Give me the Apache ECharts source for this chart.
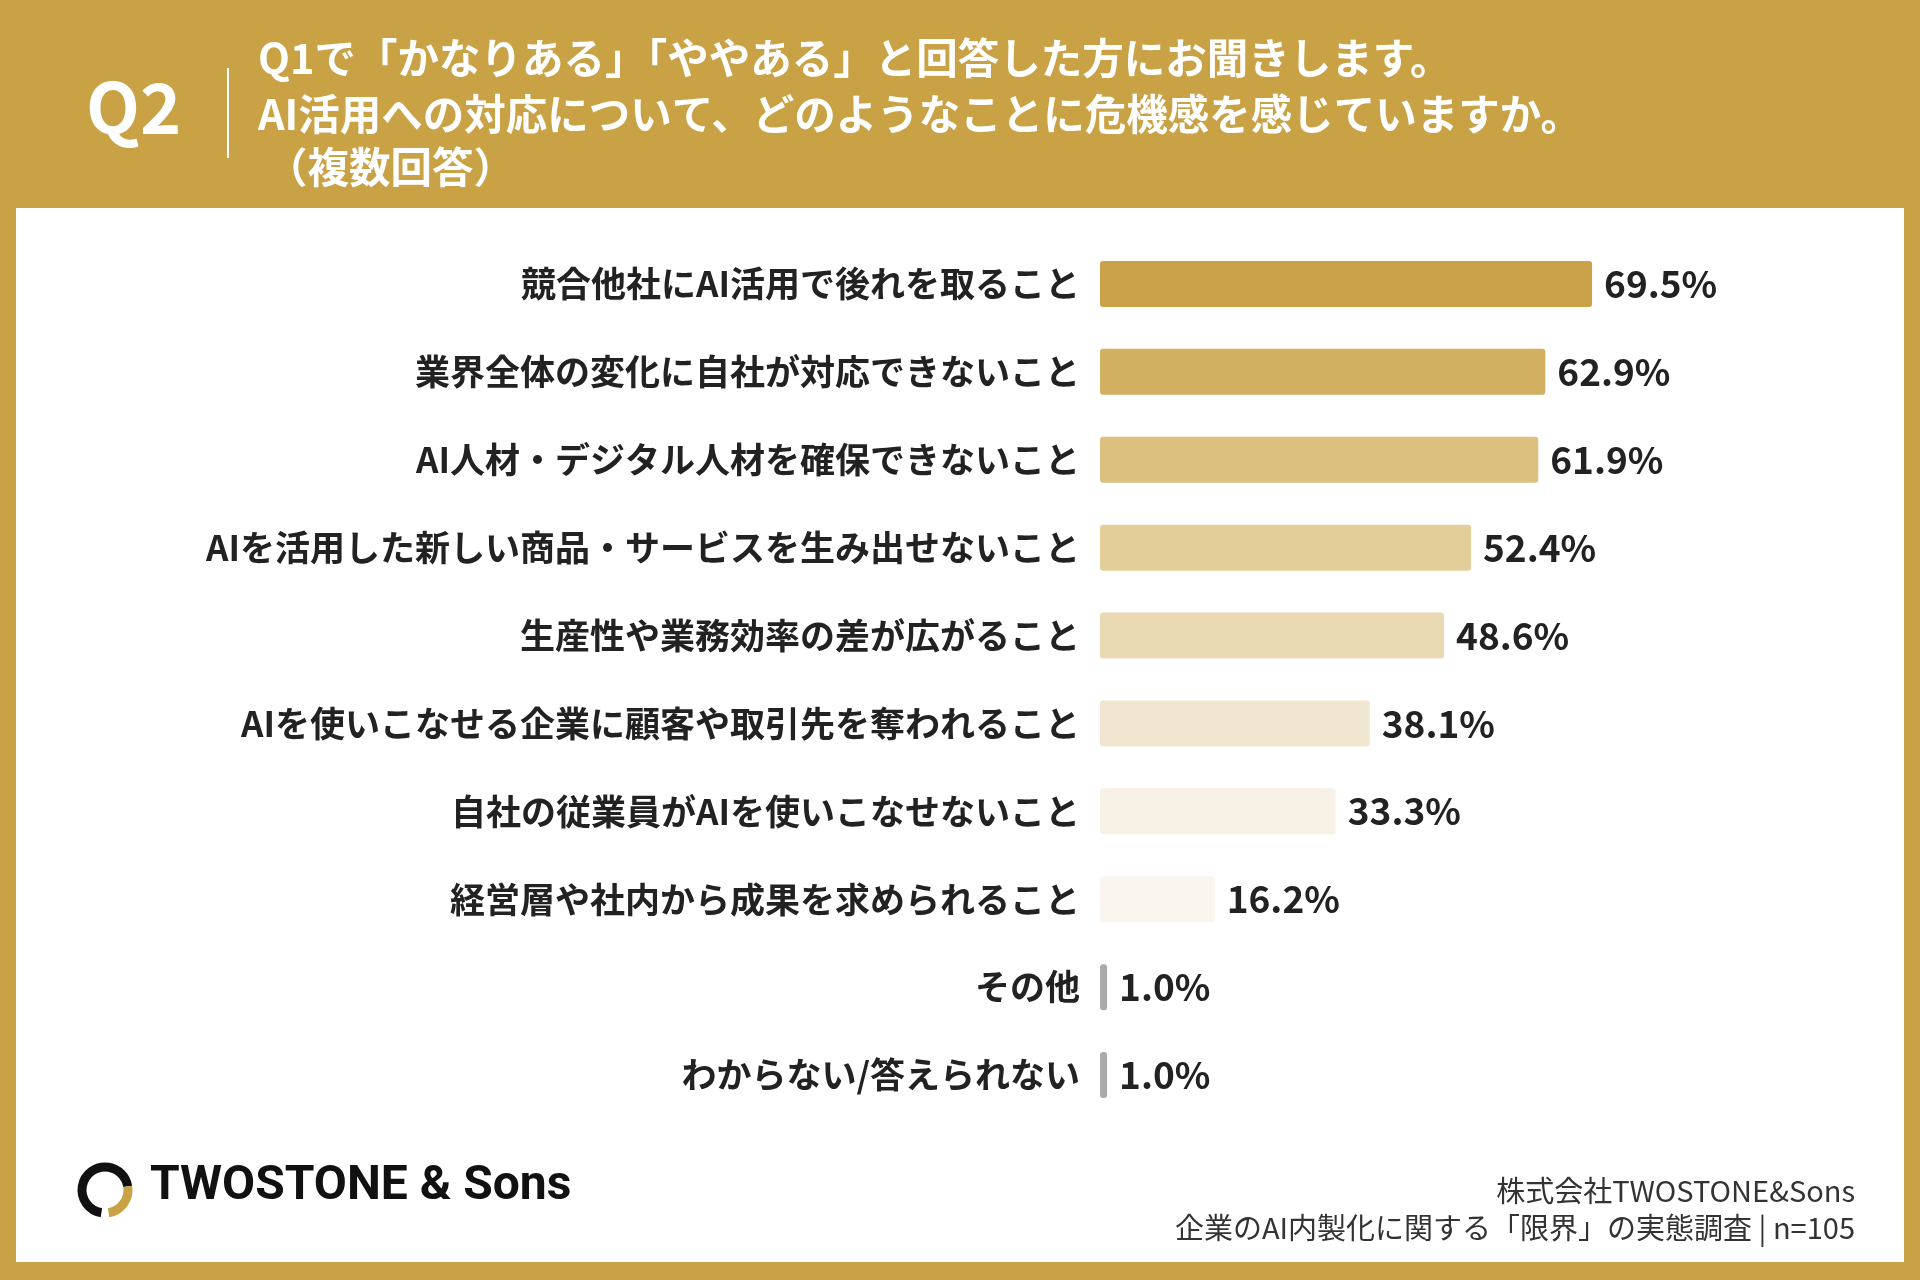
<!DOCTYPE html>
<html>
<head>
<meta charset="utf-8">
<script src="https://cdn.jsdelivr.net/npm/echarts@6/dist/echarts.min.js"></script>
<style>
  html, body { margin: 0; padding: 0; background: #C8A245; }
  #main { width: 1920px; height: 1280px; }
</style>
</head>
<body>
<div id="main"></div>
<script>
const categories = [
  '競合他社にAI活用で後れを取ること',
  '業界全体の変化に自社が対応できないこと',
  'AI人材・デジタル人材を確保できないこと',
  'AIを活用した新しい商品・サービスを生み出せないこと',
  '生産性や業務効率の差が広がること',
  'AIを使いこなせる企業に顧客や取引先を奪われること',
  '自社の従業員がAIを使いこなせないこと',
  '経営層や社内から成果を求められること',
  'その他',
  'わからない/答えられない'
];
const values = [69.5, 62.9, 61.9, 52.4, 48.6, 38.1, 33.3, 16.2, 1.0, 1.0];
const barColors = ['#C9A24A', '#D2B062', '#DBC07F', '#E3CD98', '#EADAB4', '#F1E6CF', '#F7F1E6', '#FAF6EF', '#AAAAAA', '#AAAAAA'];

const font = '"Noto Sans CJK JP", "Noto Sans", sans-serif';
const chart = echarts.init(document.getElementById('main'));

const option = {
  backgroundColor: '#C8A245',
  textStyle: { fontFamily: font },
  grid: { left: 1100, width: 708, top: 240, height: 879 },
  xAxis: { type: 'value', min: 0, max: 100, show: false },
  yAxis: {
    type: 'category',
    inverse: true,
    data: categories,
    axisLine: { show: false },
    axisTick: { show: false },
    axisLabel: { color: '#222', fontSize: 35, fontWeight: 'bold', margin: 20, fontFamily: font }
  },
  series: [{
    type: 'bar',
    barWidth: 46,
    data: values.map((v, i) => ({
      value: v,
      itemStyle: { color: barColors[i], borderRadius: 3 }
    })),
    label: {
      show: true,
      position: 'right',
      distance: 12,
      formatter: p => p.value.toFixed(1) + '%',
      color: '#222',
      fontSize: 37,
      fontWeight: 'bold',
      fontFamily: font
    }
  }],
  graphic: [
    { type: 'rect', z: -10, shape: { x: 16, y: 208, width: 1888, height: 1054 }, style: { fill: '#FFFFFF' } },
    { type: 'text', left: 86, top: 72, style: { text: 'Q2', fill: '#fff', font: 'bold 70px ' + font } },
    { type: 'line', shape: { x1: 228, y1: 68, x2: 228, y2: 158 }, style: { stroke: '#fff', lineWidth: 2 } },
    { type: 'text', left: 258, top: 37, style: { text: 'Q1で「かなりある」「ややある」と回答した方にお聞きします。', fill: '#fff', font: 'bold 41.5px ' + font } },
    { type: 'text', left: 258, top: 93, style: { text: 'AI活用への対応について、どのようなことに危機感を感じていますか。', fill: '#fff', font: 'bold 41.5px ' + font } },
    { type: 'text', left: 266, top: 146, style: { text: '（複数回答）', fill: '#fff', font: 'bold 41.5px ' + font } },
    { type: 'arc', shape: { cx: 105, cy: 1190, r: 23, startAngle: Math.PI * 0.55, endAngle: Math.PI * 1.95 }, style: { stroke: '#111', lineWidth: 9, fill: null } },
    { type: 'arc', shape: { cx: 105, cy: 1190, r: 23, startAngle: Math.PI * 1.95, endAngle: Math.PI * 2.45 }, style: { stroke: '#C8A245', lineWidth: 9, fill: null } },
    { type: 'text', left: 150, top: 1163, style: { text: 'TWOSTONE & Sons', fill: '#111', font: 'bold 48px "Roboto", sans-serif' } },
    { type: 'text', right: 65, top: 1176, style: { text: '株式会社TWOSTONE&Sons', fill: '#333', font: '29px ' + font, align: 'right' } },
    { type: 'text', right: 65, top: 1213, style: { text: '企業のAI内製化に関する「限界」の実態調査 | n=105', fill: '#333', font: '29px ' + font, align: 'right' } }
  ]
};

chart.setOption(option);
</script>
</body>
</html>
